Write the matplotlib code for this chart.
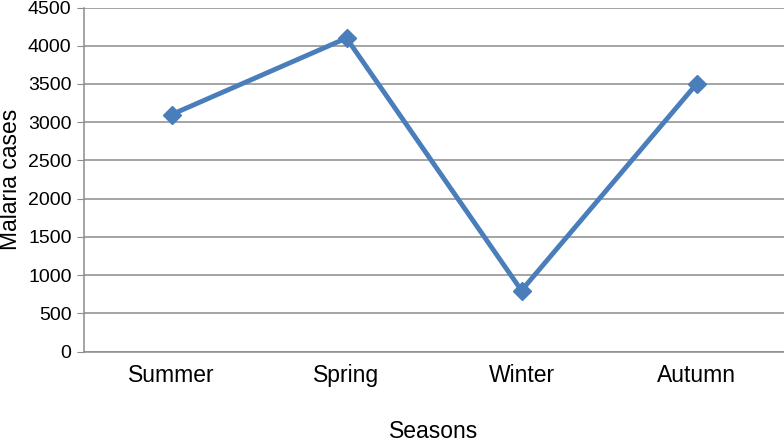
import matplotlib
matplotlib.use("Agg")
import matplotlib.pyplot as plt

seasons = ["Summer", "Spring", "Winter", "Autumn"]
cases = [3100, 4100, 800, 3500]
yticks = [0, 500, 1000, 1500, 2000, 2500, 3000, 3500, 4000, 4500]

plt.rcParams['font.family'] = ['Liberation Sans', 'DejaVu Sans']

fig = plt.figure(figsize=(7.84, 4.41), dpi=100)
W, H = 784, 441
left, right, top, bottom = 84, 784, 7.5, 351.7
ax = fig.add_axes([left / W, 1 - bottom / H, (right - left) / W, (bottom - top) / H])

x = list(range(len(seasons)))
ax.plot(x, cases, color="#4a7ebb", lw=3.5, marker="D", ms=9.5, zorder=3)

ax.set_xlim(-0.5, len(seasons) - 0.5)
ax.set_ylim(0, 4500)
ax.set_yticks(yticks)
ax.set_xticks(x)
ax.set_xticklabels(seasons)
ax.yaxis.grid(True, color="#8c8c8c", lw=1.1)
ax.set_axisbelow(True)
for s in ["top", "right"]:
    ax.spines[s].set_visible(False)
for s in ["left", "bottom"]:
    ax.spines[s].set_color("#8c8c8c")
    ax.spines[s].set_linewidth(1.1)
ax.tick_params(axis="y", length=5, color="#8c8c8c", labelsize=14, pad=4)
ax.tick_params(axis="x", length=0, labelsize=16.5, pad=9)

fig.text((left + right) / 2 / W, 1 - 431 / H, "Seasons", ha="center", va="center", fontsize=16.5)
fig.text(11 / W, 1 - 179 / H, "Malaria cases", ha="center", va="center", rotation=90, fontsize=16.5)

fig.savefig("out.png", dpi=100)
